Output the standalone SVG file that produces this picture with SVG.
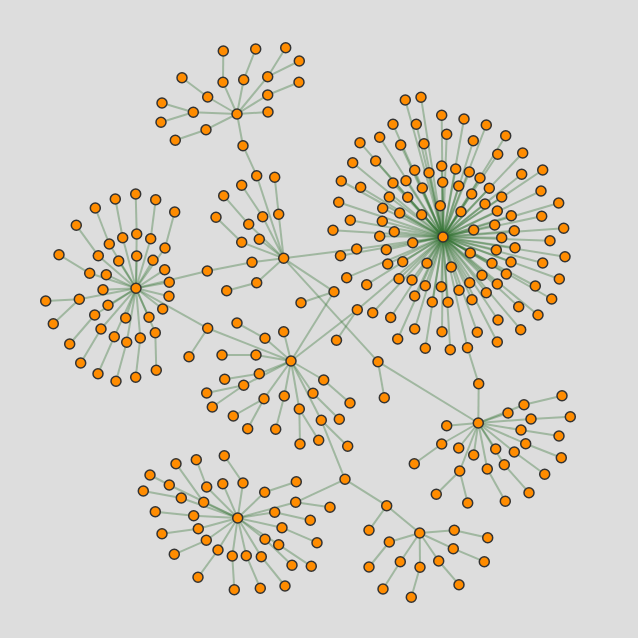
<svg xmlns="http://www.w3.org/2000/svg" width="638" height="638" viewBox="0 0 638 638">
<style>
.l line{stroke:#2f6f2f;stroke-opacity:.35;stroke-width:2}
.n circle{fill:#ff8c00;stroke:#333;stroke-width:1.5}
</style>
<rect width="638" height="638" fill="#dddddd"/>
<g id="links" class="l">
<line x1="237" y1="114" x2="223" y2="82.3"/><line x1="223" y1="82.3" x2="223.3" y2="51"/>
<line x1="237" y1="114" x2="243.7" y2="79.7"/><line x1="243.7" y1="79.7" x2="255.7" y2="49"/>
<line x1="237" y1="114" x2="267.7" y2="76.7"/><line x1="267.7" y1="76.7" x2="285.7" y2="47.7"/><line x1="267.7" y1="76.7" x2="299.3" y2="61"/>
<line x1="237" y1="114" x2="267.7" y2="95"/><line x1="267.7" y1="95" x2="299" y2="82.3"/>
<line x1="237" y1="114" x2="268" y2="112"/>
<line x1="237" y1="114" x2="207.7" y2="97"/><line x1="207.7" y1="97" x2="182" y2="77.7"/>
<line x1="237" y1="114" x2="193.3" y2="112.3"/><line x1="193.3" y1="112.3" x2="162" y2="103"/><line x1="193.3" y1="112.3" x2="161" y2="122.3"/>
<line x1="237" y1="114" x2="206" y2="129.7"/><line x1="206" y1="129.7" x2="175.3" y2="140.3"/>
<line x1="237" y1="114" x2="243" y2="145.7"/><line x1="243" y1="145.7" x2="256.7" y2="175.7"/>
<line x1="283.7" y1="258.3" x2="256.7" y2="175.7"/>
<line x1="283.7" y1="258.3" x2="278.7" y2="214.3"/><line x1="278.7" y1="214.3" x2="274.7" y2="177.3"/>
<line x1="283.7" y1="258.3" x2="262.7" y2="216.7"/><line x1="262.7" y1="216.7" x2="241.7" y2="185.3"/>
<line x1="283.7" y1="258.3" x2="248.7" y2="224.3"/><line x1="248.7" y1="224.3" x2="223.7" y2="195.7"/>
<line x1="283.7" y1="258.3" x2="241.7" y2="242.3"/><line x1="241.7" y1="242.3" x2="216" y2="217.3"/>
<line x1="283.7" y1="258.3" x2="259.3" y2="239.3"/>
<line x1="283.7" y1="258.3" x2="252" y2="262.3"/><line x1="252" y1="262.3" x2="207.3" y2="271"/><line x1="207.3" y1="271" x2="136" y2="288.3"/>
<line x1="283.7" y1="258.3" x2="256.7" y2="282.7"/><line x1="256.7" y1="282.7" x2="226.7" y2="290.7"/>
<line x1="283.7" y1="258.3" x2="334" y2="291.7"/><line x1="334" y1="291.7" x2="301" y2="302.7"/><line x1="334" y1="291.7" x2="291" y2="361"/>
<line x1="283.7" y1="258.3" x2="378" y2="361.7"/><line x1="378" y1="361.7" x2="384.3" y2="397.7"/><line x1="378" y1="361.7" x2="478.3" y2="423"/>
<line x1="283.7" y1="258.3" x2="356.7" y2="249"/><line x1="356.7" y1="249" x2="443" y2="237"/>
<line x1="136" y1="288.3" x2="136.7" y2="234"/><line x1="136.7" y1="234" x2="135.7" y2="194"/>
<line x1="136" y1="288.3" x2="136.7" y2="256"/>
<line x1="136" y1="288.3" x2="122.7" y2="237.7"/><line x1="122.7" y1="237.7" x2="115.3" y2="199"/>
<line x1="136" y1="288.3" x2="150.7" y2="238.7"/><line x1="150.7" y1="238.7" x2="155.7" y2="199.7"/>
<line x1="136" y1="288.3" x2="109.3" y2="244"/><line x1="109.3" y1="244" x2="95.3" y2="208"/>
<line x1="136" y1="288.3" x2="165" y2="248"/><line x1="165" y1="248" x2="174.7" y2="212"/>
<line x1="136" y1="288.3" x2="98.3" y2="255.7"/><line x1="98.3" y1="255.7" x2="76.3" y2="225.3"/>
<line x1="136" y1="288.3" x2="89.7" y2="273.3"/><line x1="89.7" y1="273.3" x2="59" y2="254.7"/>
<line x1="136" y1="288.3" x2="118.7" y2="261"/>
<line x1="136" y1="288.3" x2="153" y2="260.3"/>
<line x1="136" y1="288.3" x2="106.3" y2="274.7"/>
<line x1="136" y1="288.3" x2="164.7" y2="269.7"/>
<line x1="136" y1="288.3" x2="169.3" y2="282.3"/>
<line x1="136" y1="288.3" x2="103" y2="289.7"/>
<line x1="136" y1="288.3" x2="79.3" y2="299.3"/><line x1="79.3" y1="299.3" x2="45.7" y2="301"/><line x1="79.3" y1="299.3" x2="53.3" y2="323.7"/>
<line x1="136" y1="288.3" x2="169" y2="296.3"/>
<line x1="136" y1="288.3" x2="108" y2="305.3"/>
<line x1="136" y1="288.3" x2="162.7" y2="309"/>
<line x1="136" y1="288.3" x2="94.7" y2="315"/><line x1="94.7" y1="315" x2="69.7" y2="344"/>
<line x1="136" y1="288.3" x2="101" y2="329"/><line x1="101" y1="329" x2="80.7" y2="363"/>
<line x1="136" y1="288.3" x2="125.7" y2="318"/>
<line x1="136" y1="288.3" x2="149" y2="317.3"/>
<line x1="136" y1="288.3" x2="114.3" y2="336.7"/><line x1="114.3" y1="336.7" x2="98" y2="373.7"/>
<line x1="136" y1="288.3" x2="126.7" y2="342.3"/><line x1="126.7" y1="342.3" x2="116" y2="381.3"/>
<line x1="136" y1="288.3" x2="140.3" y2="338"/><line x1="140.3" y1="338" x2="135.7" y2="377.3"/>
<line x1="136" y1="288.3" x2="155.3" y2="332.7"/><line x1="155.3" y1="332.7" x2="156.3" y2="370.3"/>
<line x1="136" y1="288.3" x2="207.7" y2="328.3"/>
<line x1="291" y1="361" x2="207.7" y2="328.3"/><line x1="207.7" y1="328.3" x2="189" y2="356.7"/>
<line x1="291" y1="361" x2="265" y2="338.3"/><line x1="265" y1="338.3" x2="237" y2="323"/>
<line x1="291" y1="361" x2="283.7" y2="331.7"/>
<line x1="291" y1="361" x2="256" y2="355"/><line x1="256" y1="355" x2="222" y2="355"/>
<line x1="291" y1="361" x2="259.3" y2="373.7"/><line x1="259.3" y1="373.7" x2="224.7" y2="379.3"/>
<line x1="291" y1="361" x2="243.7" y2="385.3"/><line x1="243.7" y1="385.3" x2="206.7" y2="393"/><line x1="243.7" y1="385.3" x2="212.3" y2="407"/>
<line x1="291" y1="361" x2="264" y2="398.7"/><line x1="264" y1="398.7" x2="233.3" y2="416"/><line x1="264" y1="398.7" x2="247.7" y2="428.7"/>
<line x1="291" y1="361" x2="284.3" y2="396"/><line x1="284.3" y1="396" x2="275.7" y2="429.3"/>
<line x1="291" y1="361" x2="323.7" y2="380"/><line x1="323.7" y1="380" x2="350" y2="403"/>
<line x1="291" y1="361" x2="313" y2="393.3"/><line x1="313" y1="393.3" x2="339.3" y2="419.3"/>
<line x1="291" y1="361" x2="299.3" y2="409"/><line x1="299.3" y1="409" x2="300" y2="444"/><line x1="299.3" y1="409" x2="318.7" y2="440.3"/>
<line x1="291" y1="361" x2="321.3" y2="420.3"/><line x1="321.3" y1="420.3" x2="347.7" y2="446.3"/><line x1="321.3" y1="420.3" x2="345" y2="479.3"/>
<line x1="291" y1="361" x2="357.3" y2="309.7"/><line x1="357.3" y1="309.7" x2="443" y2="237"/><line x1="357.3" y1="309.7" x2="336.5" y2="340.2"/>
<line x1="237.7" y1="518" x2="243" y2="483"/><line x1="243" y1="483" x2="224.3" y2="455.7"/>
<line x1="237.7" y1="518" x2="206.7" y2="487"/><line x1="206.7" y1="487" x2="196.3" y2="459.7"/>
<line x1="237.7" y1="518" x2="222.8" y2="483.7"/>
<line x1="237.7" y1="518" x2="203.7" y2="502.3"/><line x1="203.7" y1="502.3" x2="176" y2="463.7"/>
<line x1="237.7" y1="518" x2="169.3" y2="485"/><line x1="169.3" y1="485" x2="150" y2="475"/>
<line x1="237.7" y1="518" x2="181.3" y2="498"/><line x1="181.3" y1="498" x2="143.3" y2="491"/>
<line x1="237.7" y1="518" x2="193.7" y2="515.7"/><line x1="193.7" y1="515.7" x2="155.3" y2="511.7"/>
<line x1="237.7" y1="518" x2="198.3" y2="528.7"/><line x1="198.3" y1="528.7" x2="162" y2="533.7"/>
<line x1="237.7" y1="518" x2="206.3" y2="540.3"/><line x1="206.3" y1="540.3" x2="174.3" y2="554.3"/>
<line x1="237.7" y1="518" x2="218" y2="550"/><line x1="218" y1="550" x2="198" y2="577.3"/>
<line x1="237.7" y1="518" x2="232.3" y2="556"/><line x1="232.3" y1="556" x2="234.3" y2="589.7"/>
<line x1="237.7" y1="518" x2="246.3" y2="555.7"/><line x1="246.3" y1="555.7" x2="260.3" y2="588.3"/>
<line x1="237.7" y1="518" x2="261.3" y2="556.7"/><line x1="261.3" y1="556.7" x2="285" y2="586"/>
<line x1="237.7" y1="518" x2="265" y2="539.3"/><line x1="265" y1="539.3" x2="292" y2="565.3"/>
<line x1="237.7" y1="518" x2="278.7" y2="544.7"/><line x1="278.7" y1="544.7" x2="311.3" y2="566.3"/>
<line x1="237.7" y1="518" x2="282" y2="527.7"/><line x1="282" y1="527.7" x2="317" y2="542.7"/>
<line x1="237.7" y1="518" x2="274.7" y2="512.3"/><line x1="274.7" y1="512.3" x2="310.3" y2="520.3"/>
<line x1="237.7" y1="518" x2="295.7" y2="502.3"/><line x1="295.7" y1="502.3" x2="330" y2="507.3"/><line x1="295.7" y1="502.3" x2="345" y2="479.3"/>
<line x1="237.7" y1="518" x2="264.7" y2="492.3"/><line x1="264.7" y1="492.3" x2="296.3" y2="481.7"/>
<line x1="345" y1="479.3" x2="386.7" y2="505.7"/><line x1="386.7" y1="505.7" x2="419.7" y2="533"/><line x1="386.7" y1="505.7" x2="369" y2="530.3"/>
<line x1="419.7" y1="533" x2="454.3" y2="530.3"/><line x1="454.3" y1="530.3" x2="487.7" y2="537.7"/>
<line x1="419.7" y1="533" x2="453.3" y2="548.7"/><line x1="453.3" y1="548.7" x2="484.3" y2="561.7"/>
<line x1="419.7" y1="533" x2="438.7" y2="561"/><line x1="438.7" y1="561" x2="459" y2="584.7"/>
<line x1="419.7" y1="533" x2="420" y2="567.3"/><line x1="420" y1="567.3" x2="411.3" y2="597.3"/>
<line x1="419.7" y1="533" x2="400.3" y2="561.7"/><line x1="400.3" y1="561.7" x2="383" y2="589"/>
<line x1="419.7" y1="533" x2="389.3" y2="542"/><line x1="389.3" y1="542" x2="369" y2="567"/>
<line x1="478.3" y1="423" x2="478.7" y2="383.7"/><line x1="478.7" y1="383.7" x2="467.5" y2="347.8"/><line x1="467.5" y1="347.8" x2="443" y2="237"/>
<line x1="478.3" y1="423" x2="446.7" y2="425.7"/>
<line x1="478.3" y1="423" x2="441.7" y2="444"/><line x1="441.7" y1="444" x2="414.3" y2="463.7"/>
<line x1="478.3" y1="423" x2="458.7" y2="448"/>
<line x1="478.3" y1="423" x2="473.7" y2="455"/>
<line x1="478.3" y1="423" x2="459.7" y2="471"/><line x1="459.7" y1="471" x2="436.3" y2="494.3"/><line x1="459.7" y1="471" x2="467.7" y2="503"/>
<line x1="478.3" y1="423" x2="487.3" y2="469"/><line x1="487.3" y1="469" x2="505.3" y2="501.3"/>
<line x1="478.3" y1="423" x2="495.7" y2="449"/>
<line x1="478.3" y1="423" x2="504.3" y2="464.7"/><line x1="504.3" y1="464.7" x2="529" y2="492.7"/>
<line x1="478.3" y1="423" x2="514.3" y2="452"/><line x1="514.3" y1="452" x2="544.7" y2="474.3"/>
<line x1="478.3" y1="423" x2="525.7" y2="443.7"/><line x1="525.7" y1="443.7" x2="561.3" y2="457.7"/>
<line x1="478.3" y1="423" x2="521" y2="430"/><line x1="521" y1="430" x2="559" y2="436"/>
<line x1="478.3" y1="423" x2="531" y2="419"/><line x1="531" y1="419" x2="570.3" y2="416.7"/>
<line x1="478.3" y1="423" x2="508" y2="413"/>
<line x1="478.3" y1="423" x2="524" y2="404.7"/><line x1="524" y1="404.7" x2="562" y2="395.7"/>
<line x1="443" y1="237" x2="405.3" y2="100"/><line x1="443" y1="237" x2="421" y2="97.3"/><line x1="443" y1="237" x2="441.7" y2="115.3"/><line x1="443" y1="237" x2="464" y2="119"/><line x1="443" y1="237" x2="486.3" y2="125"/><line x1="443" y1="237" x2="505.7" y2="135.7"/>
<line x1="443" y1="237" x2="393" y2="124.3"/><line x1="443" y1="237" x2="416.3" y2="124.3"/><line x1="443" y1="237" x2="446.7" y2="134.3"/><line x1="443" y1="237" x2="473.3" y2="140.7"/><line x1="443" y1="237" x2="360" y2="142.7"/><line x1="443" y1="237" x2="379.7" y2="137.3"/>
<line x1="443" y1="237" x2="400.7" y2="145"/><line x1="443" y1="237" x2="424" y2="143.7"/><line x1="443" y1="237" x2="497.7" y2="154.3"/><line x1="443" y1="237" x2="522.7" y2="153"/><line x1="443" y1="237" x2="352.7" y2="162.7"/><line x1="443" y1="237" x2="375.7" y2="161"/>
<line x1="443" y1="237" x2="414.7" y2="170.3"/><line x1="443" y1="237" x2="429" y2="172.7"/><line x1="443" y1="237" x2="441.7" y2="166"/><line x1="443" y1="237" x2="455.7" y2="169"/><line x1="443" y1="237" x2="469.3" y2="172"/><line x1="443" y1="237" x2="480" y2="178"/>
<line x1="443" y1="237" x2="521.7" y2="174.3"/><line x1="443" y1="237" x2="542.7" y2="170"/><line x1="443" y1="237" x2="341.3" y2="181"/><line x1="443" y1="237" x2="360.7" y2="187.3"/><line x1="443" y1="237" x2="393" y2="183"/><line x1="443" y1="237" x2="406" y2="180.7"/>
<line x1="443" y1="237" x2="422.3" y2="188"/><line x1="443" y1="237" x2="442.7" y2="182.3"/><line x1="443" y1="237" x2="458.7" y2="186"/><line x1="443" y1="237" x2="489.3" y2="188.3"/><line x1="443" y1="237" x2="471.7" y2="194"/><line x1="443" y1="237" x2="501.7" y2="197"/>
<line x1="443" y1="237" x2="541" y2="191"/><line x1="443" y1="237" x2="338.7" y2="202.3"/><line x1="443" y1="237" x2="389.3" y2="197"/><line x1="443" y1="237" x2="407.7" y2="197.3"/><line x1="443" y1="237" x2="440.3" y2="205.7"/><line x1="443" y1="237" x2="461" y2="211.7"/>
<line x1="443" y1="237" x2="485" y2="204"/><line x1="443" y1="237" x2="497.3" y2="211"/><line x1="443" y1="237" x2="511.3" y2="215.7"/><line x1="443" y1="237" x2="558.7" y2="203"/><line x1="443" y1="237" x2="382.7" y2="208.3"/><line x1="443" y1="237" x2="399.7" y2="213"/>
<line x1="443" y1="237" x2="421.7" y2="214.7"/><line x1="443" y1="237" x2="541.7" y2="216.3"/><line x1="443" y1="237" x2="350.3" y2="220.3"/><line x1="443" y1="237" x2="382.3" y2="221.3"/><line x1="443" y1="237" x2="494.7" y2="225"/><line x1="443" y1="237" x2="514.3" y2="230.7"/>
<line x1="443" y1="237" x2="333" y2="230.3"/><line x1="443" y1="237" x2="379.7" y2="236.3"/><line x1="443" y1="237" x2="394.3" y2="231.7"/><line x1="443" y1="237" x2="412.7" y2="242.7"/><line x1="443" y1="237" x2="473.7" y2="230"/><line x1="443" y1="237" x2="501.7" y2="237.7"/>
<line x1="443" y1="237" x2="563.7" y2="228.3"/><line x1="443" y1="237" x2="550" y2="240.7"/><line x1="443" y1="237" x2="340.5" y2="255.7"/><line x1="443" y1="237" x2="386.3" y2="249.7"/><line x1="443" y1="237" x2="402.7" y2="261.7"/><line x1="443" y1="237" x2="427" y2="263.3"/>
<line x1="443" y1="237" x2="470.3" y2="253"/><line x1="443" y1="237" x2="496.3" y2="250"/><line x1="443" y1="237" x2="515" y2="247.7"/><line x1="443" y1="237" x2="565" y2="256.7"/><line x1="443" y1="237" x2="387.7" y2="264"/><line x1="443" y1="237" x2="451.3" y2="267"/>
<line x1="443" y1="237" x2="492" y2="263.3"/><line x1="443" y1="237" x2="511" y2="262"/><line x1="443" y1="237" x2="542.7" y2="263"/><line x1="443" y1="237" x2="346.7" y2="277.7"/><line x1="443" y1="237" x2="366.7" y2="284.7"/><line x1="443" y1="237" x2="399" y2="278.7"/>
<line x1="443" y1="237" x2="412" y2="280"/><line x1="443" y1="237" x2="425.3" y2="285.7"/><line x1="443" y1="237" x2="441.3" y2="286.7"/><line x1="443" y1="237" x2="459" y2="290.3"/><line x1="443" y1="237" x2="469.7" y2="282.7"/><line x1="443" y1="237" x2="482" y2="275.3"/>
<line x1="443" y1="237" x2="497.3" y2="284"/><line x1="443" y1="237" x2="506.3" y2="274"/><line x1="443" y1="237" x2="535.3" y2="286"/><line x1="443" y1="237" x2="559.3" y2="279"/><line x1="443" y1="237" x2="414.7" y2="296"/><line x1="443" y1="237" x2="432.3" y2="302"/>
<line x1="443" y1="237" x2="448" y2="302.3"/><line x1="443" y1="237" x2="472" y2="299.7"/><line x1="443" y1="237" x2="486.3" y2="292.7"/><line x1="443" y1="237" x2="518.7" y2="306.7"/><line x1="443" y1="237" x2="551.7" y2="299"/><line x1="443" y1="237" x2="372.7" y2="312.7"/>
<line x1="443" y1="237" x2="390.7" y2="317.5"/><line x1="443" y1="237" x2="498" y2="320"/><line x1="443" y1="237" x2="538" y2="315"/><line x1="443" y1="237" x2="414.7" y2="329"/><line x1="443" y1="237" x2="397.7" y2="339"/><line x1="443" y1="237" x2="425.3" y2="348.3"/>
<line x1="443" y1="237" x2="442" y2="331.7"/><line x1="443" y1="237" x2="450.3" y2="349.7"/><line x1="443" y1="237" x2="477.3" y2="332.3"/><line x1="443" y1="237" x2="497.3" y2="342"/><line x1="443" y1="237" x2="520.7" y2="329.7"/>
</g>
<g id="nodes" class="n">
<g id="a0"><circle cx="237" cy="114" r="5"/></g><g id="a1"><circle cx="223" cy="82.3" r="5"/></g><g id="a2"><circle cx="223.3" cy="51" r="5"/></g><g id="a3"><circle cx="243.7" cy="79.7" r="5"/></g><g id="a4"><circle cx="255.7" cy="49" r="5"/></g><g id="a5"><circle cx="267.7" cy="76.7" r="5"/></g><g id="a6"><circle cx="285.7" cy="47.7" r="5"/></g><g id="a7"><circle cx="299.3" cy="61" r="5"/></g><g id="a8"><circle cx="267.7" cy="95" r="5"/></g><g id="a9"><circle cx="299" cy="82.3" r="5"/></g><g id="a10"><circle cx="268" cy="112" r="5"/></g><g id="a11"><circle cx="207.7" cy="97" r="5"/></g><g id="a12"><circle cx="182" cy="77.7" r="5"/></g><g id="a13"><circle cx="193.3" cy="112.3" r="5"/></g><g id="a14"><circle cx="162" cy="103" r="5"/></g><g id="a15"><circle cx="161" cy="122.3" r="5"/></g><g id="a16"><circle cx="206" cy="129.7" r="5"/></g><g id="a17"><circle cx="175.3" cy="140.3" r="5"/></g><g id="a18"><circle cx="243" cy="145.7" r="5"/></g>
<g id="b0"><circle cx="283.7" cy="258.3" r="5"/></g><g id="b1"><circle cx="256.7" cy="175.7" r="5"/></g><g id="b2"><circle cx="278.7" cy="214.3" r="5"/></g><g id="b3"><circle cx="274.7" cy="177.3" r="5"/></g><g id="b4"><circle cx="262.7" cy="216.7" r="5"/></g><g id="b5"><circle cx="241.7" cy="185.3" r="5"/></g><g id="b6"><circle cx="248.7" cy="224.3" r="5"/></g><g id="b7"><circle cx="223.7" cy="195.7" r="5"/></g><g id="b8"><circle cx="241.7" cy="242.3" r="5"/></g><g id="b9"><circle cx="216" cy="217.3" r="5"/></g><g id="b10"><circle cx="259.3" cy="239.3" r="5"/></g><g id="b11"><circle cx="252" cy="262.3" r="5"/></g><g id="b12"><circle cx="207.3" cy="271" r="5"/></g><g id="b13"><circle cx="256.7" cy="282.7" r="5"/></g><g id="b14"><circle cx="226.7" cy="290.7" r="5"/></g><g id="b15"><circle cx="334" cy="291.7" r="5"/></g><g id="b16"><circle cx="301" cy="302.7" r="5"/></g><g id="b17"><circle cx="378" cy="361.7" r="5"/></g><g id="b18"><circle cx="384.3" cy="397.7" r="5"/></g>
<g id="c0"><circle cx="136" cy="288.3" r="5"/></g><g id="c1"><circle cx="136.7" cy="234" r="5"/></g><g id="c2"><circle cx="135.7" cy="194" r="5"/></g><g id="c3"><circle cx="136.7" cy="256" r="5"/></g><g id="c4"><circle cx="122.7" cy="237.7" r="5"/></g><g id="c5"><circle cx="115.3" cy="199" r="5"/></g><g id="c6"><circle cx="150.7" cy="238.7" r="5"/></g><g id="c7"><circle cx="155.7" cy="199.7" r="5"/></g><g id="c8"><circle cx="109.3" cy="244" r="5"/></g><g id="c9"><circle cx="95.3" cy="208" r="5"/></g><g id="c10"><circle cx="165" cy="248" r="5"/></g><g id="c11"><circle cx="174.7" cy="212" r="5"/></g><g id="c12"><circle cx="98.3" cy="255.7" r="5"/></g><g id="c13"><circle cx="76.3" cy="225.3" r="5"/></g><g id="c14"><circle cx="89.7" cy="273.3" r="5"/></g><g id="c15"><circle cx="59" cy="254.7" r="5"/></g><g id="c16"><circle cx="118.7" cy="261" r="5"/></g><g id="c17"><circle cx="153" cy="260.3" r="5"/></g><g id="c18"><circle cx="106.3" cy="274.7" r="5"/></g><g id="c19"><circle cx="164.7" cy="269.7" r="5"/></g><g id="c20"><circle cx="169.3" cy="282.3" r="5"/></g><g id="c21"><circle cx="103" cy="289.7" r="5"/></g><g id="c22"><circle cx="79.3" cy="299.3" r="5"/></g><g id="c23"><circle cx="45.7" cy="301" r="5"/></g><g id="c24"><circle cx="53.3" cy="323.7" r="5"/></g><g id="c25"><circle cx="169" cy="296.3" r="5"/></g><g id="c26"><circle cx="108" cy="305.3" r="5"/></g><g id="c27"><circle cx="162.7" cy="309" r="5"/></g><g id="c28"><circle cx="94.7" cy="315" r="5"/></g><g id="c29"><circle cx="69.7" cy="344" r="5"/></g><g id="c30"><circle cx="101" cy="329" r="5"/></g><g id="c31"><circle cx="80.7" cy="363" r="5"/></g><g id="c32"><circle cx="125.7" cy="318" r="5"/></g><g id="c33"><circle cx="149" cy="317.3" r="5"/></g><g id="c34"><circle cx="114.3" cy="336.7" r="5"/></g><g id="c35"><circle cx="98" cy="373.7" r="5"/></g><g id="c36"><circle cx="126.7" cy="342.3" r="5"/></g><g id="c37"><circle cx="116" cy="381.3" r="5"/></g><g id="c38"><circle cx="140.3" cy="338" r="5"/></g><g id="c39"><circle cx="135.7" cy="377.3" r="5"/></g><g id="c40"><circle cx="155.3" cy="332.7" r="5"/></g><g id="c41"><circle cx="156.3" cy="370.3" r="5"/></g>
<g id="e0"><circle cx="291" cy="361" r="5"/></g><g id="e1"><circle cx="207.7" cy="328.3" r="5"/></g><g id="e2"><circle cx="189" cy="356.7" r="5"/></g><g id="e3"><circle cx="265" cy="338.3" r="5"/></g><g id="e4"><circle cx="237" cy="323" r="5"/></g><g id="e5"><circle cx="283.7" cy="331.7" r="5"/></g><g id="e6"><circle cx="256" cy="355" r="5"/></g><g id="e7"><circle cx="222" cy="355" r="5"/></g><g id="e8"><circle cx="259.3" cy="373.7" r="5"/></g><g id="e9"><circle cx="224.7" cy="379.3" r="5"/></g><g id="e10"><circle cx="243.7" cy="385.3" r="5"/></g><g id="e11"><circle cx="206.7" cy="393" r="5"/></g><g id="e12"><circle cx="212.3" cy="407" r="5"/></g><g id="e13"><circle cx="264" cy="398.7" r="5"/></g><g id="e14"><circle cx="233.3" cy="416" r="5"/></g><g id="e15"><circle cx="247.7" cy="428.7" r="5"/></g><g id="e16"><circle cx="284.3" cy="396" r="5"/></g><g id="e17"><circle cx="275.7" cy="429.3" r="5"/></g><g id="e18"><circle cx="323.7" cy="380" r="5"/></g><g id="e19"><circle cx="350" cy="403" r="5"/></g><g id="e20"><circle cx="313" cy="393.3" r="5"/></g><g id="e21"><circle cx="339.3" cy="419.3" r="5"/></g><g id="e22"><circle cx="299.3" cy="409" r="5"/></g><g id="e23"><circle cx="300" cy="444" r="5"/></g><g id="e24"><circle cx="318.7" cy="440.3" r="5"/></g><g id="e25"><circle cx="321.3" cy="420.3" r="5"/></g><g id="e26"><circle cx="347.7" cy="446.3" r="5"/></g>
<g id="g0"><circle cx="237.7" cy="518" r="5"/></g><g id="g1"><circle cx="243" cy="483" r="5"/></g><g id="g2"><circle cx="224.3" cy="455.7" r="5"/></g><g id="g3"><circle cx="206.7" cy="487" r="5"/></g><g id="g4"><circle cx="196.3" cy="459.7" r="5"/></g><g id="g5"><circle cx="222.8" cy="483.7" r="5"/></g><g id="g6"><circle cx="203.7" cy="502.3" r="5"/></g><g id="g7"><circle cx="176" cy="463.7" r="5"/></g><g id="g8"><circle cx="169.3" cy="485" r="5"/></g><g id="g9"><circle cx="150" cy="475" r="5"/></g><g id="g10"><circle cx="181.3" cy="498" r="5"/></g><g id="g11"><circle cx="143.3" cy="491" r="5"/></g><g id="g12"><circle cx="193.7" cy="515.7" r="5"/></g><g id="g13"><circle cx="155.3" cy="511.7" r="5"/></g><g id="g14"><circle cx="198.3" cy="528.7" r="5"/></g><g id="g15"><circle cx="162" cy="533.7" r="5"/></g><g id="g16"><circle cx="206.3" cy="540.3" r="5"/></g><g id="g17"><circle cx="174.3" cy="554.3" r="5"/></g><g id="g18"><circle cx="218" cy="550" r="5"/></g><g id="g19"><circle cx="198" cy="577.3" r="5"/></g><g id="g20"><circle cx="232.3" cy="556" r="5"/></g><g id="g21"><circle cx="234.3" cy="589.7" r="5"/></g><g id="g22"><circle cx="246.3" cy="555.7" r="5"/></g><g id="g23"><circle cx="260.3" cy="588.3" r="5"/></g><g id="g24"><circle cx="261.3" cy="556.7" r="5"/></g><g id="g25"><circle cx="285" cy="586" r="5"/></g><g id="g26"><circle cx="265" cy="539.3" r="5"/></g><g id="g27"><circle cx="292" cy="565.3" r="5"/></g><g id="g28"><circle cx="278.7" cy="544.7" r="5"/></g><g id="g29"><circle cx="311.3" cy="566.3" r="5"/></g><g id="g30"><circle cx="282" cy="527.7" r="5"/></g><g id="g31"><circle cx="317" cy="542.7" r="5"/></g><g id="g32"><circle cx="274.7" cy="512.3" r="5"/></g><g id="g33"><circle cx="310.3" cy="520.3" r="5"/></g><g id="g34"><circle cx="295.7" cy="502.3" r="5"/></g><g id="g35"><circle cx="330" cy="507.3" r="5"/></g><g id="g36"><circle cx="264.7" cy="492.3" r="5"/></g><g id="g37"><circle cx="296.3" cy="481.7" r="5"/></g>
<g id="h0"><circle cx="419.7" cy="533" r="5"/></g><g id="h1"><circle cx="345" cy="479.3" r="5"/></g><g id="h2"><circle cx="386.7" cy="505.7" r="5"/></g><g id="h3"><circle cx="369" cy="530.3" r="5"/></g><g id="h4"><circle cx="454.3" cy="530.3" r="5"/></g><g id="h5"><circle cx="487.7" cy="537.7" r="5"/></g><g id="h6"><circle cx="453.3" cy="548.7" r="5"/></g><g id="h7"><circle cx="484.3" cy="561.7" r="5"/></g><g id="h8"><circle cx="438.7" cy="561" r="5"/></g><g id="h9"><circle cx="459" cy="584.7" r="5"/></g><g id="h10"><circle cx="420" cy="567.3" r="5"/></g><g id="h11"><circle cx="411.3" cy="597.3" r="5"/></g><g id="h12"><circle cx="400.3" cy="561.7" r="5"/></g><g id="h13"><circle cx="383" cy="589" r="5"/></g><g id="h14"><circle cx="389.3" cy="542" r="5"/></g><g id="h15"><circle cx="369" cy="567" r="5"/></g>
<g id="f0"><circle cx="478.3" cy="423" r="5"/></g><g id="f1"><circle cx="478.7" cy="383.7" r="5"/></g><g id="f2"><circle cx="446.7" cy="425.7" r="5"/></g><g id="f3"><circle cx="441.7" cy="444" r="5"/></g><g id="f4"><circle cx="414.3" cy="463.7" r="5"/></g><g id="f5"><circle cx="458.7" cy="448" r="5"/></g><g id="f6"><circle cx="473.7" cy="455" r="5"/></g><g id="f7"><circle cx="459.7" cy="471" r="5"/></g><g id="f8"><circle cx="436.3" cy="494.3" r="5"/></g><g id="f9"><circle cx="467.7" cy="503" r="5"/></g><g id="f10"><circle cx="487.3" cy="469" r="5"/></g><g id="f11"><circle cx="505.3" cy="501.3" r="5"/></g><g id="f12"><circle cx="495.7" cy="449" r="5"/></g><g id="f13"><circle cx="504.3" cy="464.7" r="5"/></g><g id="f14"><circle cx="529" cy="492.7" r="5"/></g><g id="f15"><circle cx="514.3" cy="452" r="5"/></g><g id="f16"><circle cx="544.7" cy="474.3" r="5"/></g><g id="f17"><circle cx="525.7" cy="443.7" r="5"/></g><g id="f18"><circle cx="561.3" cy="457.7" r="5"/></g><g id="f19"><circle cx="521" cy="430" r="5"/></g><g id="f20"><circle cx="559" cy="436" r="5"/></g><g id="f21"><circle cx="531" cy="419" r="5"/></g><g id="f22"><circle cx="570.3" cy="416.7" r="5"/></g><g id="f23"><circle cx="508" cy="413" r="5"/></g><g id="f24"><circle cx="524" cy="404.7" r="5"/></g><g id="f25"><circle cx="562" cy="395.7" r="5"/></g>
<g id="d0"><circle cx="443" cy="237" r="5"/></g><g id="dB"><circle cx="356.7" cy="249" r="5"/></g><g id="dE"><circle cx="357.3" cy="309.7" r="5"/></g><g id="dE1"><circle cx="336.5" cy="340.2" r="5"/></g><g id="dF"><circle cx="467.5" cy="347.8" r="5"/></g>
<g id="d1"><circle cx="405.3" cy="100" r="5"/></g><g id="d2"><circle cx="421" cy="97.3" r="5"/></g><g id="d3"><circle cx="441.7" cy="115.3" r="5"/></g><g id="d4"><circle cx="464" cy="119" r="5"/></g><g id="d5"><circle cx="486.3" cy="125" r="5"/></g><g id="d6"><circle cx="505.7" cy="135.7" r="5"/></g><g id="d7"><circle cx="393" cy="124.3" r="5"/></g><g id="d8"><circle cx="416.3" cy="124.3" r="5"/></g><g id="d9"><circle cx="446.7" cy="134.3" r="5"/></g><g id="d10"><circle cx="473.3" cy="140.7" r="5"/></g><g id="d11"><circle cx="360" cy="142.7" r="5"/></g><g id="d12"><circle cx="379.7" cy="137.3" r="5"/></g><g id="d13"><circle cx="400.7" cy="145" r="5"/></g><g id="d14"><circle cx="424" cy="143.7" r="5"/></g><g id="d15"><circle cx="497.7" cy="154.3" r="5"/></g><g id="d16"><circle cx="522.7" cy="153" r="5"/></g><g id="d17"><circle cx="352.7" cy="162.7" r="5"/></g><g id="d18"><circle cx="375.7" cy="161" r="5"/></g><g id="d19"><circle cx="414.7" cy="170.3" r="5"/></g><g id="d20"><circle cx="429" cy="172.7" r="5"/></g><g id="d21"><circle cx="441.7" cy="166" r="5"/></g><g id="d22"><circle cx="455.7" cy="169" r="5"/></g><g id="d23"><circle cx="469.3" cy="172" r="5"/></g><g id="d24"><circle cx="480" cy="178" r="5"/></g><g id="d25"><circle cx="521.7" cy="174.3" r="5"/></g><g id="d26"><circle cx="542.7" cy="170" r="5"/></g><g id="d27"><circle cx="341.3" cy="181" r="5"/></g><g id="d28"><circle cx="360.7" cy="187.3" r="5"/></g><g id="d29"><circle cx="393" cy="183" r="5"/></g><g id="d30"><circle cx="406" cy="180.7" r="5"/></g><g id="d31"><circle cx="422.3" cy="188" r="5"/></g><g id="d32"><circle cx="442.7" cy="182.3" r="5"/></g><g id="d33"><circle cx="458.7" cy="186" r="5"/></g><g id="d34"><circle cx="489.3" cy="188.3" r="5"/></g><g id="d35"><circle cx="471.7" cy="194" r="5"/></g><g id="d36"><circle cx="501.7" cy="197" r="5"/></g><g id="d37"><circle cx="541" cy="191" r="5"/></g><g id="d38"><circle cx="338.7" cy="202.3" r="5"/></g><g id="d39"><circle cx="389.3" cy="197" r="5"/></g><g id="d40"><circle cx="407.7" cy="197.3" r="5"/></g><g id="d41"><circle cx="440.3" cy="205.7" r="5"/></g><g id="d42"><circle cx="461" cy="211.7" r="5"/></g><g id="d43"><circle cx="485" cy="204" r="5"/></g><g id="d44"><circle cx="497.3" cy="211" r="5"/></g><g id="d45"><circle cx="511.3" cy="215.7" r="5"/></g><g id="d46"><circle cx="558.7" cy="203" r="5"/></g><g id="d47"><circle cx="382.7" cy="208.3" r="5"/></g><g id="d48"><circle cx="399.7" cy="213" r="5"/></g><g id="d49"><circle cx="421.7" cy="214.7" r="5"/></g><g id="d50"><circle cx="541.7" cy="216.3" r="5"/></g><g id="d51"><circle cx="350.3" cy="220.3" r="5"/></g><g id="d52"><circle cx="382.3" cy="221.3" r="5"/></g><g id="d53"><circle cx="494.7" cy="225" r="5"/></g><g id="d54"><circle cx="514.3" cy="230.7" r="5"/></g><g id="d55"><circle cx="333" cy="230.3" r="5"/></g><g id="d56"><circle cx="379.7" cy="236.3" r="5"/></g><g id="d57"><circle cx="394.3" cy="231.7" r="5"/></g><g id="d58"><circle cx="412.7" cy="242.7" r="5"/></g><g id="d59"><circle cx="473.7" cy="230" r="5"/></g><g id="d60"><circle cx="501.7" cy="237.7" r="5"/></g><g id="d61"><circle cx="563.7" cy="228.3" r="5"/></g><g id="d62"><circle cx="550" cy="240.7" r="5"/></g><g id="d63"><circle cx="340.5" cy="255.7" r="5"/></g><g id="d64"><circle cx="386.3" cy="249.7" r="5"/></g><g id="d65"><circle cx="402.7" cy="261.7" r="5"/></g><g id="d66"><circle cx="427" cy="263.3" r="5"/></g><g id="d67"><circle cx="470.3" cy="253" r="5"/></g><g id="d68"><circle cx="496.3" cy="250" r="5"/></g><g id="d69"><circle cx="515" cy="247.7" r="5"/></g><g id="d70"><circle cx="565" cy="256.7" r="5"/></g><g id="d71"><circle cx="387.7" cy="264" r="5"/></g><g id="d72"><circle cx="451.3" cy="267" r="5"/></g><g id="d73"><circle cx="492" cy="263.3" r="5"/></g><g id="d74"><circle cx="511" cy="262" r="5"/></g><g id="d75"><circle cx="542.7" cy="263" r="5"/></g><g id="d76"><circle cx="346.7" cy="277.7" r="5"/></g><g id="d77"><circle cx="366.7" cy="284.7" r="5"/></g><g id="d78"><circle cx="399" cy="278.7" r="5"/></g><g id="d79"><circle cx="412" cy="280" r="5"/></g><g id="d80"><circle cx="425.3" cy="285.7" r="5"/></g><g id="d81"><circle cx="441.3" cy="286.7" r="5"/></g><g id="d82"><circle cx="459" cy="290.3" r="5"/></g><g id="d83"><circle cx="469.7" cy="282.7" r="5"/></g><g id="d84"><circle cx="482" cy="275.3" r="5"/></g><g id="d85"><circle cx="497.3" cy="284" r="5"/></g><g id="d86"><circle cx="506.3" cy="274" r="5"/></g><g id="d87"><circle cx="535.3" cy="286" r="5"/></g><g id="d88"><circle cx="559.3" cy="279" r="5"/></g><g id="d89"><circle cx="414.7" cy="296" r="5"/></g><g id="d90"><circle cx="432.3" cy="302" r="5"/></g><g id="d91"><circle cx="448" cy="302.3" r="5"/></g><g id="d92"><circle cx="472" cy="299.7" r="5"/></g><g id="d93"><circle cx="486.3" cy="292.7" r="5"/></g><g id="d94"><circle cx="518.7" cy="306.7" r="5"/></g><g id="d95"><circle cx="551.7" cy="299" r="5"/></g><g id="d96"><circle cx="372.7" cy="312.7" r="5"/></g><g id="d97"><circle cx="390.7" cy="317.5" r="5"/></g><g id="d98"><circle cx="498" cy="320" r="5"/></g><g id="d99"><circle cx="538" cy="315" r="5"/></g><g id="d101"><circle cx="414.7" cy="329" r="5"/></g><g id="d102"><circle cx="397.7" cy="339" r="5"/></g><g id="d103"><circle cx="425.3" cy="348.3" r="5"/></g><g id="d104"><circle cx="442" cy="331.7" r="5"/></g><g id="d105"><circle cx="450.3" cy="349.7" r="5"/></g><g id="d106"><circle cx="477.3" cy="332.3" r="5"/></g><g id="d107"><circle cx="497.3" cy="342" r="5"/></g><g id="d108"><circle cx="520.7" cy="329.7" r="5"/></g>
</g>
</svg>
